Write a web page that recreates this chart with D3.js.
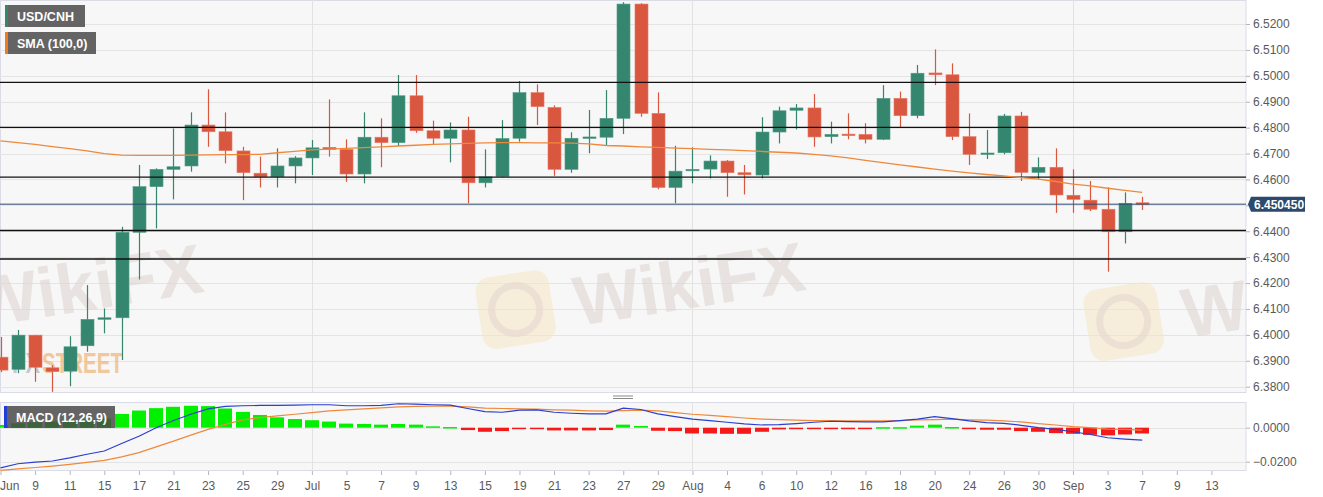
<!DOCTYPE html>
<html>
<head>
<meta charset="utf-8">
<script src="https://cdn.jsdelivr.net/npm/d3@7"></script>
<style>
  html, body { margin: 0; padding: 0; background: #fff; }
  #chart { width: 1323px; height: 497px; }
  text { font-family: 'Liberation Sans', Arial, sans-serif; }
</style>
</head>
<body>
<div id="chart"></div>
<script>
// ==============================
// DATA
// ==============================

// trading days shown as candles
const dates = [
  'Jun 7', 'Jun 8', 'Jun 9', 'Jun 10', 'Jun 11', 'Jun 14', 'Jun 15', 'Jun 16', 'Jun 17', 'Jun 18',
  'Jun 21', 'Jun 22', 'Jun 23', 'Jun 24', 'Jun 25', 'Jun 28', 'Jun 29', 'Jun 30',
  'Jul 1', 'Jul 2', 'Jul 5', 'Jul 6', 'Jul 7', 'Jul 8', 'Jul 9', 'Jul 12', 'Jul 13', 'Jul 14',
  'Jul 15', 'Jul 16', 'Jul 19', 'Jul 20', 'Jul 21', 'Jul 22', 'Jul 23', 'Jul 26', 'Jul 27',
  'Jul 28', 'Jul 29', 'Jul 30',
  'Aug 2', 'Aug 3', 'Aug 4', 'Aug 5', 'Aug 6', 'Aug 9', 'Aug 10', 'Aug 11', 'Aug 12', 'Aug 13',
  'Aug 16', 'Aug 17', 'Aug 18', 'Aug 19', 'Aug 20', 'Aug 23', 'Aug 24', 'Aug 25', 'Aug 26',
  'Aug 27', 'Aug 30', 'Aug 31',
  'Sep 1', 'Sep 2', 'Sep 3', 'Sep 6', 'Sep 7',
];

// x labels, one every second trading day starting at Jun 7
const tickLabels = [
  'Jun', '9', '11', '15', '17', '21', '23', '25', '29', 'Jul', '5', '7', '9', '13', '15', '19',
  '21', '23', '27', '29', 'Aug', '4', '6', '10', '12', '16', '18', '20', '24', '26', '30',
  'Sep', '3', '7', '9', '13',
];

// first trading day of each month (vertical grid)
const monthStarts = ['Jul 1', 'Aug 2', 'Sep 1'];

const open = [
  6.3914, 6.3867, 6.3999, 6.3873, 6.3860, 6.3958, 6.4060, 6.4066, 6.4396, 6.4572,
  6.4639, 6.4652, 6.4810, 6.4784, 6.4710, 6.4624, 6.4610, 6.4652, 6.4683, 6.4724,
  6.4716, 6.4621, 6.4763, 6.4742, 6.4923, 6.4788, 6.4759, 6.4791, 6.4587, 6.4612,
  6.4759, 6.4935, 6.4878, 6.4639, 6.4759, 6.4763, 6.4836, 6.5277, 6.4855, 6.4569,
  6.4634, 6.4640, 6.4671, 6.4626, 6.4617, 6.4783, 6.4867, 6.4876, 6.4765, 6.4775,
  6.4774, 6.4755, 6.4913, 6.4846, 6.5011, 6.5004, 6.4765, 6.4697, 6.4703, 6.4845,
  6.4627, 6.4647, 6.4539, 6.4520, 6.4485, 6.4398, 6.4510,
];
const high = [
  6.3992, 6.4019, 6.4000, 6.3883, 6.3995, 6.4192, 6.4102, 6.4417, 6.4656, 6.4643,
  6.4797, 6.4859, 6.4948, 6.4859, 6.4726, 6.4688, 6.4720, 6.4690, 6.4752, 6.4909,
  6.4755, 6.4859, 6.4836, 6.5003, 6.5003, 6.4827, 6.4820, 6.4842, 6.4716, 6.4829,
  6.4980, 6.4967, 6.4886, 6.4782, 6.4868, 6.4945, 6.5284, 6.5280, 6.4936, 6.4730,
  6.4724, 6.4693, 6.4675, 6.4656, 6.4840, 6.4881, 6.4891, 6.4930, 6.4823, 6.4855,
  6.4817, 6.4964, 6.4939, 6.5042, 6.5102, 6.5048, 6.4855, 6.4791, 6.4853, 6.4861,
  6.4685, 6.4720, 6.4639, 6.4594, 6.4569, 6.4550, 6.4533,
];
const low = [
  6.3856, 6.3852, 6.3819, 6.3780, 6.3802, 6.3935, 6.4006, 6.3903, 6.4214, 6.4411,
  6.4523, 6.4630, 6.4726, 6.4662, 6.4520, 6.4569, 6.4569, 6.4585, 6.4617, 6.4688,
  6.4591, 6.4585, 6.4647, 6.4729, 6.4780, 6.4733, 6.4666, 6.4508, 6.4569, 6.4608,
  6.4746, 6.4810, 6.4614, 6.4626, 6.4701, 6.4730, 6.4775, 6.4842, 6.4562, 6.4508,
  6.4585, 6.4604, 6.4533, 6.4542, 6.4604, 6.4739, 6.4793, 6.4726, 6.4739, 6.4755,
  6.4739, 6.4752, 6.4801, 6.4836, 6.4964, 6.4752, 6.4656, 6.4679, 6.4697, 6.4594,
  6.4602, 6.4471, 6.4471, 6.4478, 6.4244, 6.4353, 6.4482,
];
const close = [
  6.3864, 6.3999, 6.3875, 6.3858, 6.3954, 6.4060, 6.4066, 6.4396, 6.4572, 6.4639,
  6.4649, 6.4810, 6.4784, 6.4711, 6.4626, 6.4610, 6.4652, 6.4683, 6.4722, 6.4716,
  6.4621, 6.4763, 6.4742, 6.4923, 6.4788, 6.4759, 6.4791, 6.4587, 6.4610, 6.4758,
  6.4935, 6.4881, 6.4639, 6.4759, 6.4764, 6.4836, 6.5277, 6.4855, 6.4569, 6.4632,
  6.4639, 6.4671, 6.4626, 6.4618, 6.4783, 6.4865, 6.4876, 6.4764, 6.4774, 6.4769,
  6.4755, 6.4913, 6.4846, 6.5010, 6.5004, 6.4765, 6.4697, 6.4702, 6.4845, 6.4627,
  6.4647, 6.4540, 6.4523, 6.4485, 6.4398, 6.4508, 6.45045,
];

// SMA (100,0)
const sma = [
  6.4749, 6.4742, 6.4735, 6.4727, 6.4719, 6.4710, 6.4700, 6.4694, 6.4693, 6.4693,
  6.4693, 6.4694, 6.4695, 6.4696, 6.4696, 6.4697, 6.4703, 6.4708, 6.4714, 6.4717,
  6.4720, 6.4723, 6.4726, 6.4729, 6.4732, 6.4735, 6.4737, 6.4739, 6.4741, 6.4742,
  6.4742, 6.4741, 6.4741, 6.4740, 6.4737, 6.4731, 6.4729, 6.4726, 6.4724, 6.4721,
  6.4719, 6.4716, 6.4714, 6.4711, 6.4708, 6.4705, 6.4702, 6.4697, 6.4691, 6.4683,
  6.4674, 6.4665, 6.4656, 6.4648, 6.4640, 6.4632, 6.4625, 6.4619, 6.4614, 6.4607,
  6.4601, 6.4592, 6.4582, 6.4575, 6.4566, 6.4558, 6.4550,
];

// MACD (12,26,9)
const macdLine = [
  -0.0236, -0.0212, -0.0202, -0.0196, -0.0178, -0.0156, -0.0137, -0.0093, -0.0050, 0.0000,
  0.0042, 0.0079, 0.0111, 0.0125, 0.0129, 0.0131, 0.0131, 0.0133, 0.0135, 0.0135,
  0.0129, 0.0129, 0.0131, 0.0141, 0.0139, 0.0135, 0.0133, 0.0113, 0.0095, 0.0091,
  0.0103, 0.0105, 0.0091, 0.0085, 0.0081, 0.0081, 0.0115, 0.0107, 0.0081, 0.0065,
  0.0051, 0.0042, 0.0032, 0.0022, 0.0016, 0.0018, 0.0024, 0.0032, 0.0038, 0.0036,
  0.0034, 0.0034, 0.0042, 0.0051, 0.0065, 0.0053, 0.0040, 0.0030, 0.0026, 0.0014,
  0.0000, -0.0010, -0.0024, -0.0040, -0.0059, -0.0067, -0.0073,
];
const signalLine = [
  -0.0251, -0.0242, -0.0234, -0.0226, -0.0216, -0.0204, -0.0192, -0.0172, -0.0147, -0.0113,
  -0.0079, -0.0044, -0.0010, 0.0020, 0.0046, 0.0059, 0.0069, 0.0079, 0.0089, 0.0099,
  0.0105, 0.0111, 0.0117, 0.0123, 0.0125, 0.0127, 0.0127, 0.0123, 0.0115, 0.0113,
  0.0111, 0.0109, 0.0105, 0.0103, 0.0099, 0.0097, 0.0101, 0.0103, 0.0099, 0.0089,
  0.0079, 0.0073, 0.0065, 0.0057, 0.0051, 0.0048, 0.0044, 0.0042, 0.0042, 0.0040,
  0.0040, 0.0040, 0.0042, 0.0046, 0.0048, 0.0050, 0.0046, 0.0044, 0.0040, 0.0034,
  0.0024, 0.0016, 0.0006, 0.0000, -0.0008, -0.0010, -0.0014,
];
const histogram = [
  0.0016, 0.0026, 0.0032, 0.0036, 0.0040, 0.0046, 0.0055, 0.0081, 0.0101, 0.0115,
  0.0123, 0.0129, 0.0127, 0.0113, 0.0093, 0.0075, 0.0061, 0.0051, 0.0044, 0.0036,
  0.0024, 0.0022, 0.0018, 0.0022, 0.0018, 0.0008, 0.0004, -0.0014, -0.0024, -0.0020,
  -0.0006, -0.0004, -0.0016, -0.0016, -0.0016, -0.0014, 0.0018, 0.0010, -0.0018, -0.0020,
  -0.0034, -0.0034, -0.0036, -0.0036, -0.0024, -0.0010, -0.0006, -0.0004, -0.0004, -0.0004,
  -0.0003, 0.0003, 0.0003, 0.0012, 0.0018, 0.0004, -0.0005, -0.0012, -0.0012, -0.0020,
  -0.0024, -0.0032, -0.0036, -0.0042, -0.0045, -0.0040, -0.0034,
];

// horizontal support / resistance levels
const levels = [6.4975, 6.4801, 6.4609, 6.4403, 6.4293];

const priceTicks = d3.range(6.38, 6.5201, 0.01);
const macdTicks = [0, -0.02];

// ==============================
// RENDER
// ==============================

function renderChart(selector) {
  const W = 1323;
  const H = 497;
  const plotRight = 1246;
  const main = { top: 0, bottom: 393 };
  const lower = { top: 402, bottom: 471 };
  const up = '#35866f';
  const down = '#d9573f';

  const svg = d3.select(selector).append('svg').attr('width', W).attr('height', H);
  const defs = svg.append('defs');
  defs.append('clipPath').attr('id', 'clipMain')
    .append('rect').attr('x', 0).attr('y', main.top).attr('width', plotRight).attr('height', main.bottom - main.top);
  defs.append('clipPath').attr('id', 'clipLower')
    .append('rect').attr('x', 0).attr('y', lower.top).attr('width', plotRight).attr('height', lower.bottom - lower.top);

  // scales: one slot per trading day, future slots to the right
  const idx = new Map(dates.map((d, i) => [d, i]));
  const x = d3.scaleLinear().domain([0, 72]).range([0.5, plotRight]);
  const y = d3.scaleLinear().domain([6.38, 6.52]).range([386.7, 24]);
  const ym = d3.scaleLinear().domain([-0.02, 0]).range([461.7, 427.7]);
  const barW = 13;

  // panel backgrounds
  [main, lower].forEach((p) => {
    svg.append('rect')
      .attr('x', 0.5).attr('y', p.top + 0.5)
      .attr('width', plotRight - 0.5).attr('height', p.bottom - p.top - 1)
      .attr('fill', '#f7f7f7').attr('stroke', '#d9dce6');
  });

  const gMain = svg.append('g').attr('clip-path', 'url(#clipMain)');
  const gLower = svg.append('g').attr('clip-path', 'url(#clipLower)');

  // grid
  gMain.selectAll('line.hgrid').data(priceTicks).join('line')
    .attr('x1', 0).attr('x2', plotRight)
    .attr('y1', (d) => Math.round(y(d)) + 0.5).attr('y2', (d) => Math.round(y(d)) + 0.5)
    .attr('stroke', '#e4e4e4');
  gLower.selectAll('line.hgrid').data(macdTicks).join('line')
    .attr('x1', 0).attr('x2', plotRight)
    .attr('y1', (d) => Math.round(ym(d)) + 0.5).attr('y2', (d) => Math.round(ym(d)) + 0.5)
    .attr('stroke', '#e4e4e4');
  [gMain, gLower].forEach((g) => {
    g.selectAll('line.vgrid').data(monthStarts).join('line')
      .attr('x1', (d) => Math.round(x(idx.get(d))) + 0.5)
      .attr('x2', (d) => Math.round(x(idx.get(d))) + 0.5)
      .attr('y1', 0).attr('y2', H)
      .attr('stroke', '#e2e2e2');
  });

  // watermarks (faint, tilted)
  const wm = gMain.append('g').attr('pointer-events', 'none');
  function wikiMark(tx, ty, withLogo) {
    const g = wm.append('g').attr('transform', `translate(${tx},${ty}) rotate(-9)`);
    if (withLogo) {
      g.append('rect').attr('x', -96).attr('y', -62).attr('width', 74).attr('height', 72).attr('rx', 14)
        .attr('fill', '#f6e6bf').attr('opacity', 0.5);
      g.append('circle').attr('cx', -59).attr('cy', -26).attr('r', 24)
        .attr('fill', 'none').attr('stroke', '#e6d6cf').attr('stroke-width', 7).attr('opacity', 0.6);
    }
    g.append('text').attr('x', 0).attr('y', 0)
      .attr('font-size', 70).attr('font-weight', 'bold').attr('font-family', 'Open Sans, sans-serif')
      .attr('fill', '#ddd3d0').attr('opacity', 0.55).text('WikiFX');
  }
  wikiMark(-24, 328, false);
  wikiMark(578, 326, true);
  wikiMark(1186, 338, true);

  const fxs = wm.append('text').attr('y', 373)
    .attr('font-size', 30).attr('font-weight', 'bold').attr('font-family', 'DejaVu Sans Condensed, sans-serif');
  fxs.append('tspan').attr('x', 12).attr('textLength', 28).attr('lengthAdjust', 'spacingAndGlyphs')
    .attr('fill', '#8c9399').attr('opacity', 0.45).text('FX');
  fxs.append('tspan').attr('x', 42).attr('textLength', 81).attr('lengthAdjust', 'spacingAndGlyphs')
    .attr('fill', '#efb476').attr('opacity', 0.7).text('STREET');

  // candles
  const bars = dates.map((d, i) => ({ i, o: open[i], h: high[i], l: low[i], c: close[i] }));
  const cg = gMain.selectAll('g.candle').data(bars).join('g').attr('class', 'candle');
  cg.append('line')
    .attr('x1', (d) => Math.round(x(d.i)) + 0.5).attr('x2', (d) => Math.round(x(d.i)) + 0.5)
    .attr('y1', (d) => y(d.h)).attr('y2', (d) => y(d.l))
    .attr('stroke', (d) => (d.c >= d.o ? up : down)).attr('stroke-width', 1.2);
  cg.append('rect')
    .attr('x', (d) => Math.round(x(d.i)) - (barW - 1) / 2)
    .attr('y', (d) => y(Math.max(d.o, d.c)))
    .attr('width', barW)
    .attr('height', (d) => Math.max(1.5, Math.abs(y(d.o) - y(d.c))))
    .attr('fill', (d) => (d.c >= d.o ? up : down))
    .attr('stroke', (d) => (d.c >= d.o ? '#4f9c86' : '#e77a66')).attr('stroke-width', 0.6);

  // horizontal levels
  gMain.selectAll('line.level').data(levels).join('line')
    .attr('x1', 0).attr('x2', plotRight)
    .attr('y1', (d) => y(d)).attr('y2', (d) => y(d))
    .attr('stroke', '#111').attr('stroke-width', 1.3);

  // last price line
  const last = close[close.length - 1];
  gMain.append('line')
    .attr('x1', 0).attr('x2', plotRight).attr('y1', y(last)).attr('y2', y(last))
    .attr('stroke', '#2b4a6e').attr('stroke-width', 1);

  // SMA
  gMain.append('path')
    .datum(sma)
    .attr('d', d3.line().x((d, i) => x(i)).y((d) => y(d)))
    .attr('fill', 'none').attr('stroke', '#f0883a').attr('stroke-width', 1.3);

  // MACD histogram + lines
  gLower.selectAll('rect.hist').data(histogram).join('rect')
    .attr('x', (d, i) => Math.round(x(i)) - 7)
    .attr('y', (d) => (d >= 0 ? ym(d) : ym(0)))
    .attr('width', 14)
    .attr('height', (d) => Math.max(1.5, Math.abs(ym(d) - ym(0))))
    .attr('fill', (d) => (d >= 0 ? '#00f000' : '#f51a1a'));
  gLower.append('path').datum(signalLine)
    .attr('d', d3.line().x((d, i) => x(i)).y((d) => ym(d)))
    .attr('fill', 'none').attr('stroke', '#f0883a').attr('stroke-width', 1.2);
  gLower.append('path').datum(macdLine)
    .attr('d', d3.line().x((d, i) => x(i)).y((d) => ym(d)))
    .attr('fill', 'none').attr('stroke', '#2a3fd0').attr('stroke-width', 1.2);

  // right axes
  const axisColor = '#5a5a5a';
  const priceAxis = svg.append('g').attr('transform', `translate(${plotRight},0)`)
    .call(d3.axisRight(y).tickValues(priceTicks).tickFormat(d3.format('.4f')).tickSize(4).tickPadding(3));
  const macdAxis = svg.append('g').attr('transform', `translate(${plotRight},0)`)
    .call(d3.axisRight(ym).tickValues(macdTicks).tickFormat(d3.format('.4f')).tickSize(4).tickPadding(3));
  [priceAxis, macdAxis].forEach((g) => {
    g.select('.domain').remove();
    g.selectAll('line').attr('stroke', '#b5b5b5');
    g.selectAll('text').attr('fill', axisColor).attr('font-size', 12)
      .attr('font-family', 'Liberation Sans, Arial, sans-serif');
  });

  // bottom axis
  const tickIdx = tickLabels.map((d, k) => k * 2);
  const xAxis = svg.append('g').attr('transform', `translate(0,${lower.bottom})`)
    .call(d3.axisBottom(x).tickValues(tickIdx).tickFormat((d, k) => tickLabels[k]).tickSize(4).tickPadding(6));
  xAxis.select('.domain').remove();
  xAxis.selectAll('line').attr('stroke', '#b5b5b5');
  xAxis.selectAll('text').attr('fill', axisColor).attr('font-size', 12)
    .attr('font-family', 'Liberation Sans, Arial, sans-serif');
  xAxis.selectAll('text').filter((d) => d === 0).attr('text-anchor', 'start').attr('dx', -1);

  // last price tag
  const py = y(last);
  const tag = svg.append('g');
  tag.append('path')
    .attr('d', `M${plotRight + 2},${py} L${plotRight + 5},${py - 7.5} L${plotRight + 59},${py - 7.5} L${plotRight + 59},${py + 7.5} L${plotRight + 5},${py + 7.5} Z`)
    .attr('fill', '#2b4a6e');
  tag.append('text').attr('x', plotRight + 8).attr('y', py + 4.5)
    .attr('fill', '#fff').attr('font-size', 12).attr('font-weight', 'bold')
    .text(d3.format('.6f')(last));

  // panel splitter handle
  [396, 398.5].forEach((hy) => {
    svg.append('line').attr('x1', 613).attr('x2', 633).attr('y1', hy).attr('y2', hy)
      .attr('stroke', '#8a8a8a').attr('stroke-width', 1);
  });

  // legends
  function legend(lx, ly, w, label, stripe) {
    const g = svg.append('g');
    g.append('rect').attr('x', lx).attr('y', ly).attr('width', w).attr('height', 22)
      .attr('fill', 'rgb(72,72,72)').attr('opacity', 0.84);
    g.append('rect').attr('x', lx).attr('y', ly).attr('width', 3).attr('height', 22).attr('fill', stripe);
    g.append('text').attr('x', lx + 12).attr('y', ly + 15.5)
      .attr('fill', '#fff').attr('font-size', 12.5).attr('font-weight', 'bold').text(label);
  }
  legend(5, 5, 80, 'USD/CNH', up);
  legend(5, 32, 91, 'SMA (100,0)', '#f07a22');
  legend(4, 406, 111, 'MACD (12,26,9)', '#1f3fd6');
}

renderChart('#chart');
</script>
</body>
</html>
